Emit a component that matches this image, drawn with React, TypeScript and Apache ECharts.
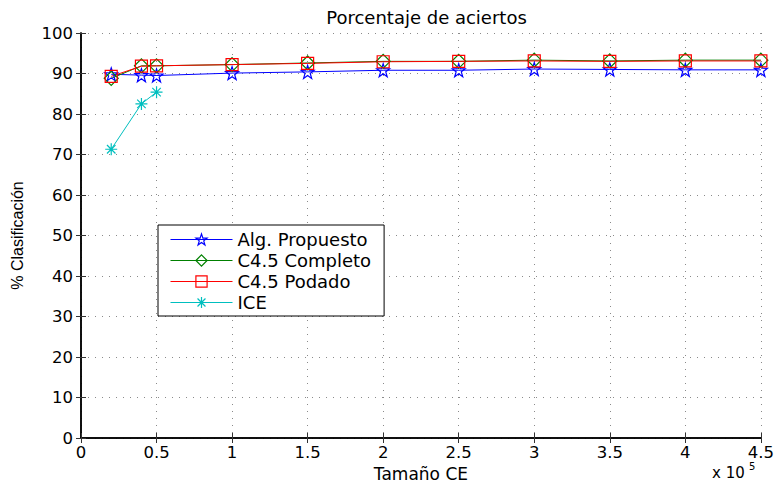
import React, { useEffect, useRef } from "react";
import * as echarts from "echarts";

// Training-set sizes (x axis, raw units)
const sizes = [20000, 40000, 50000, 100000, 150000, 200000, 250000, 300000, 350000, 400000, 450000];
const sizesICE = [20000, 40000, 50000];

// Classification accuracy (%)
const algPropuesto = [89.8, 89.6, 89.5, 90.1, 90.4, 90.8, 90.8, 91.1, 91.0, 90.9, 90.9];
const c45Completo = [88.8, 91.9, 91.9, 92.2, 92.6, 93.0, 93.0, 93.3, 93.1, 93.3, 93.3];
const c45Podado = [89.3, 91.8, 91.9, 92.2, 92.5, 92.9, 93.0, 93.1, 93.0, 93.1, 93.1];
const ice = [71.3, 82.5, 85.4];

const seriesNames = ["Alg. Propuesto", "C4.5 Completo", "C4.5 Podado", "ICE"];
const seriesColors = ["#0000ff", "#008000", "#ff0000", "#00bfbf"];

const STAR =
  "path://M0,-10 L2.35,-3.24 L9.51,-3.09 L3.8,1.24 L5.88,8.09 L0,4 L-5.88,8.09 L-3.8,1.24 L-9.51,-3.09 L-2.35,-3.24 Z";
const ASTERISK =
  "path://M0,-10 L0,10 M-10,0 L10,0 M-7.07,-7.07 L7.07,7.07 M-7.07,7.07 L7.07,-7.07";

const FONT = "'DejaVu Sans', 'Liberation Sans', Arial, sans-serif";
const FONT_Y = "'Liberation Sans', Arial, Helvetica, sans-serif";
const FS = 17;

function pairs(xs: number[], ys: number[]) {
  return xs.map((x, i) => [x, ys[i]]);
}

export default function App() {
  const ref = useRef<HTMLDivElement>(null);

  useEffect(() => {
    if (!ref.current) return;
    const chart = echarts.init(ref.current, undefined, { renderer: "svg" });

    const gridLine = { show: true, lineStyle: { color: "#8a8a8a", type: [1, 6] as any, width: 1 } };
    const tick = { show: true, inside: true, length: 5, lineStyle: { color: "#333", width: 1 } };
    const axisLine = { show: true, lineStyle: { color: "#000", width: 1.5 } };

    const mkSeries = (
      name: string,
      data: number[][],
      color: string,
      symbol: string,
      size: number
    ) => ({
      name,
      type: "line",
      data,
      symbol,
      symbolSize: size,
      showAllSymbol: true,
      lineStyle: { color, width: 1 },
      itemStyle: { color: "rgba(0,0,0,0)", borderColor: color, borderWidth: 1.2 },
      emphasis: { disabled: true },
      z: 3,
    });

    chart.setOption({
      animation: false,
      backgroundColor: "#fff",
      title: {
        text: "Porcentaje de aciertos",
        left: 421.5,
        top: 3,
        textAlign: "center",
        textStyle: { fontFamily: FONT, fontSize: 18, fontWeight: "normal", color: "#000" },
      },
      grid: { left: 81, right: 15, top: 33, bottom: 52, containLabel: false },
      legend: {
        show: true,
        orient: "vertical",
        left: 158,
        top: 225,
        itemWidth: 62,
        itemHeight: 14,
        itemGap: 0,
        padding: [4, 13, 3, 12],
        borderColor: "#000",
        borderWidth: 1,
        backgroundColor: "#fff",
        data: seriesNames.map((name, i) => ({
          name,
          itemStyle: { color: "rgba(0,0,0,0)", borderColor: seriesColors[i], borderWidth: 1.2 },
          lineStyle: { color: seriesColors[i], width: 1 },
        })),
        textStyle: { fontFamily: FONT, fontSize: 18, color: "#000", lineHeight: 21 },
      },
      xAxis: [
        {
          type: "value",
          min: 0,
          max: 450000,
          interval: 50000,
          name: "Tamaño CE",
          nameLocation: "middle",
          nameGap: 24,
          nameTextStyle: { fontFamily: FONT, fontSize: FS, color: "#000" },
          axisLine,
          axisTick: tick,
          splitLine: gridLine,
          axisLabel: {
            fontFamily: FONT,
            fontSize: 16.5,
            color: "#000",
            margin: 6,
            formatter: (v: number) => String(v / 100000),
          },
        },
        {
          type: "value",
          position: "top",
          min: 0,
          max: 450000,
          interval: 50000,
          axisLine,
          axisTick: tick,
          splitLine: { show: false },
          axisLabel: { show: false },
        },
      ],
      yAxis: [
        {
          type: "value",
          min: 0,
          max: 100,
          interval: 10,
          name: "% Clasificación",
          nameLocation: "middle",
          nameGap: 56,
          nameTextStyle: { fontFamily: FONT_Y, fontSize: 16, color: "#000" },
          axisLine,
          axisTick: tick,
          splitLine: gridLine,
          axisLabel: { fontFamily: FONT, fontSize: 16.5, color: "#000", margin: 8 },
        },
        {
          type: "value",
          position: "right",
          min: 0,
          max: 100,
          interval: 10,
          axisLine,
          axisTick: tick,
          splitLine: { show: false },
          axisLabel: { show: false },
        },
      ],
      graphic: [
        {
          type: "text",
          left: 712,
          top: 465,
          style: { text: "x 10", fontFamily: FONT, fontSize: 15, fill: "#000" },
        },
        {
          type: "text",
          left: 749,
          top: 461,
          style: { text: "5", fontFamily: FONT, fontSize: 10, fill: "#000" },
        },
      ],
      series: [
        mkSeries(seriesNames[0], pairs(sizes, algPropuesto), seriesColors[0], STAR, 13),
        mkSeries(seriesNames[1], pairs(sizes, c45Completo), seriesColors[1], "diamond", 14),
        mkSeries(seriesNames[2], pairs(sizes, c45Podado), seriesColors[2], "rect", 12),
        mkSeries(seriesNames[3], pairs(sizesICE, ice), seriesColors[3], ASTERISK, 12),
      ],
    });

    return () => chart.dispose();
  }, []);

  return (
    <div
      ref={ref}
      style={{ position: "fixed", left: 0, top: 0, width: 777, height: 490, background: "#fff" }}
    />
  );
}
